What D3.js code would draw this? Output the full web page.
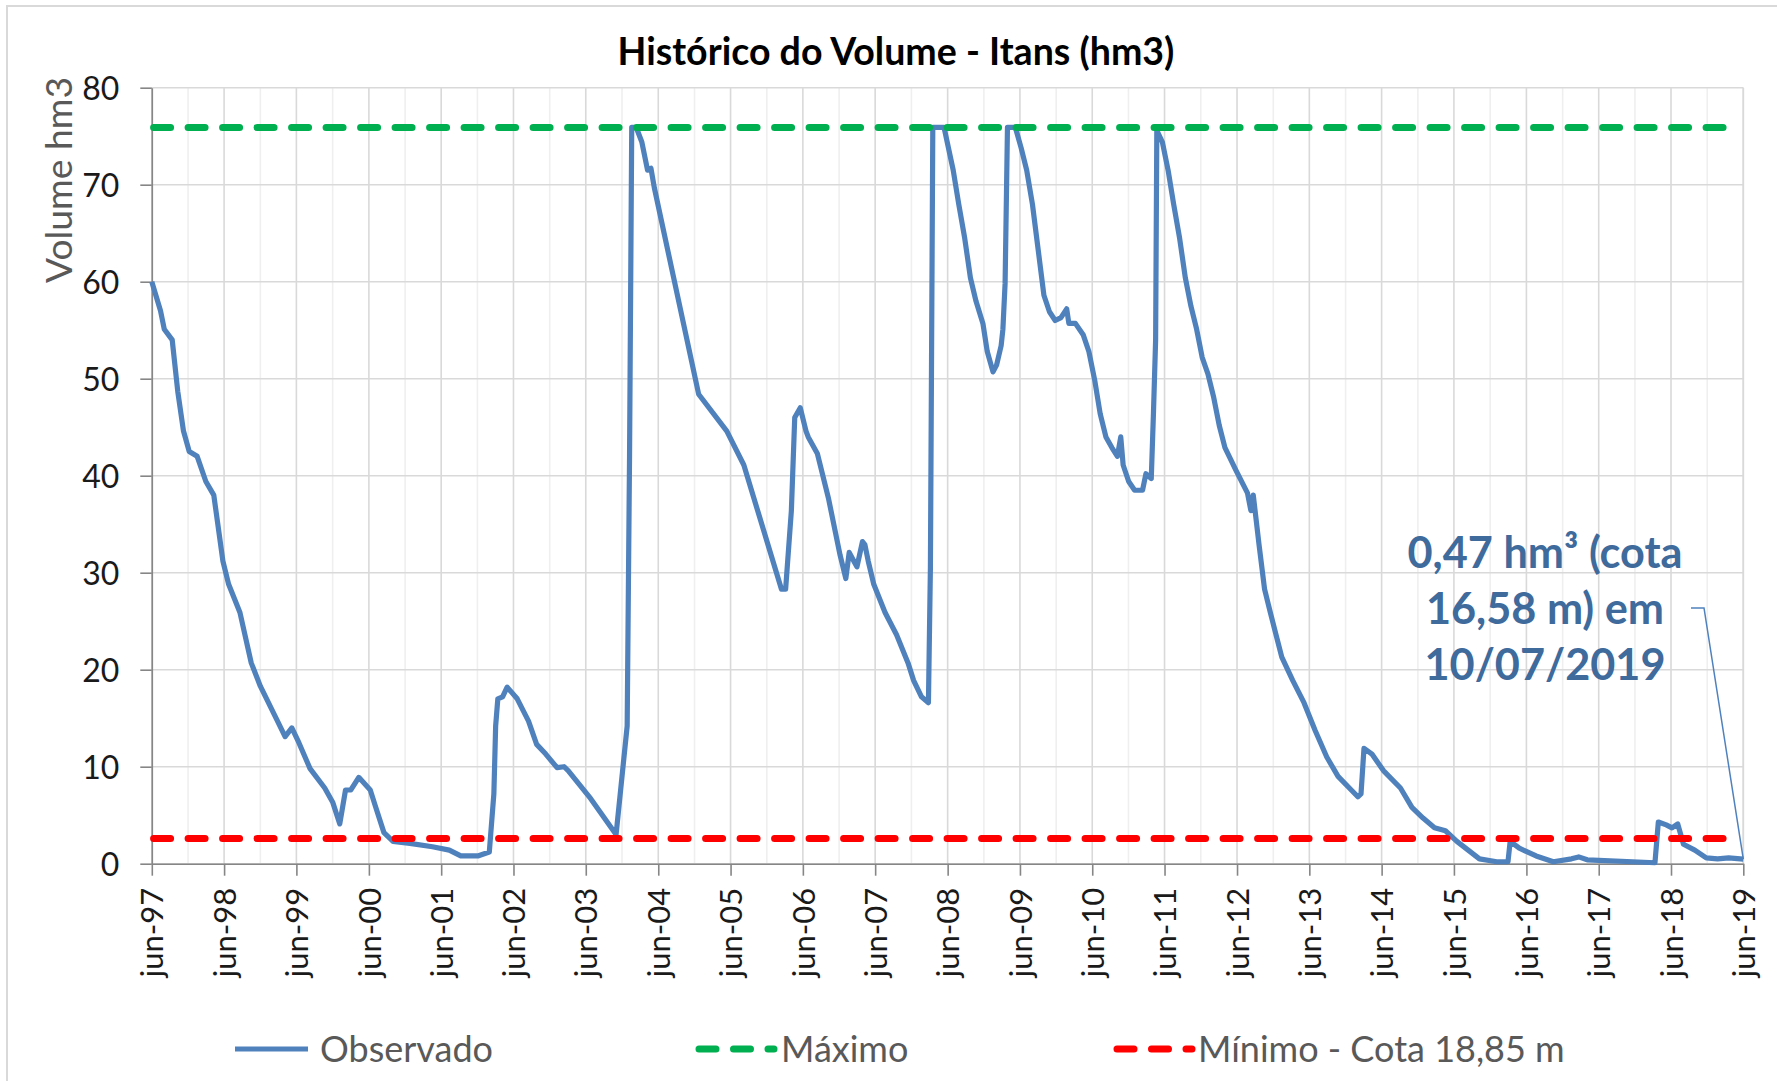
<!DOCTYPE html>
<html>
<head>
<meta charset="utf-8">
<script src="https://cdn.jsdelivr.net/npm/d3@7"></script>
<style>
html,body{margin:0;padding:0;background:#fff;}
svg{display:block;}
text{font-family:Lato,"Open Sans","Noto Sans",sans-serif;}
</style>
</head>
<body>
<script>
// ---------------- DATA ----------------
const obsDates = [
"1997-06-01","1997-07-15","1997-08-03","1997-09-12","1997-10-10","1997-11-08","1997-12-07","1998-01-16","1998-03-01","1998-04-10",
"1998-05-26","1998-06-24","1998-08-20","1998-10-16","1998-12-01","1999-02-09","1999-04-05","1999-05-09","1999-06-13","1999-08-09",
"1999-10-22","1999-12-02","2000-01-06","2000-02-04","2000-03-02","2000-04-11","2000-06-08","2000-07-06","2000-08-16","2000-10-01",
"2000-12-25","2001-04-18","2001-07-12","2001-09-08","2001-12-03","2002-01-30","2002-02-22","2002-03-03","2002-03-14","2002-04-07",
"2002-04-30","2002-06-20","2002-08-16","2002-09-26","2002-11-11","2003-01-07","2003-02-11","2003-03-04","2003-06-26","2003-11-01",
"2003-12-27","2004-01-08","2004-01-19","2004-02-11","2004-03-10","2004-04-08","2004-04-25","2004-05-12","2004-12-22","2005-05-13",
"2005-08-07","2006-02-13","2006-03-06","2006-04-04","2006-04-21","2006-05-19","2006-06-17","2006-06-28","2006-08-13","2006-10-09",
"2006-12-06","2007-01-04","2007-01-21","2007-02-13","2007-03-01","2007-03-29","2007-04-10","2007-04-27","2007-05-25","2007-07-21",
"2007-09-17","2007-11-14","2007-12-12","2008-01-21","2008-02-25","2008-03-06","2008-03-18","2008-05-14","2008-06-29","2008-07-27",
"2008-08-26","2008-09-24","2008-10-22","2008-11-26","2008-12-18","2009-01-16","2009-02-03","2009-02-26","2009-03-07","2009-03-18",
"2009-03-30","2009-05-09","2009-06-07","2009-07-05","2009-08-03","2009-09-01","2009-09-30","2009-10-28","2009-11-26","2009-12-25",
"2010-01-23","2010-02-03","2010-03-08","2010-04-17","2010-05-15","2010-06-13","2010-07-11","2010-08-09","2010-09-08","2010-10-06",
"2010-10-23","2010-11-04","2010-12-02","2011-01-01","2011-02-10","2011-02-27","2011-03-26","2011-04-06","2011-04-17","2011-04-23",
"2011-05-21","2011-06-19","2011-07-17","2011-08-16","2011-09-14","2011-10-12","2011-11-10","2011-12-08","2012-01-06","2012-02-04",
"2012-03-03","2012-04-01","2012-05-28","2012-07-24","2012-08-10","2012-08-22","2012-09-20","2012-10-18","2012-11-16","2012-12-15",
"2013-01-13","2013-03-09","2013-05-05","2013-07-01","2013-08-28","2013-10-24","2013-12-20","2014-02-01","2014-02-17","2014-03-04",
"2014-04-13","2014-06-10","2014-09-04","2014-11-01","2014-12-27","2015-02-23","2015-04-19","2015-06-16","2015-08-12","2015-10-08",
"2016-01-03","2016-02-29","2016-03-11","2016-04-26","2016-07-20","2016-10-15","2017-01-15","2017-02-20","2017-04-04","2017-06-01",
"2017-11-19","2018-03-12","2018-03-29","2018-05-08","2018-06-06","2018-07-05","2018-08-03","2018-09-29","2018-11-26","2019-01-22",
"2019-03-19","2019-06-01"
];
const obsValues = [
60.0,57.0,55.1,54.0,48.7,44.6,42.5,42.0,39.4,38.0,
31.2,28.8,25.9,20.7,18.3,15.4,13.1,14.0,12.5,9.8,
7.8,6.3,4.1,7.6,7.6,8.9,7.6,5.8,3.2,2.3,
2.1,1.75,1.4,0.8,0.8,1.2,7.2,14.2,17.0,17.2,
18.2,17.0,14.7,12.3,11.3,9.9,10.0,9.6,6.7,3.0,
14.2,42.0,75.9,75.9,74.4,71.5,71.7,69.7,48.4,44.6,
41.1,28.3,28.3,36.4,46.0,47.0,44.6,44.0,42.3,37.6,
31.8,29.4,32.1,31.2,30.6,33.2,32.9,31.2,28.8,25.9,
23.6,20.7,18.9,17.2,16.6,30.6,75.9,75.9,71.5,68.0,
64.5,60.4,58.0,55.7,52.8,50.7,51.4,53.4,55.1,59.8,
75.9,75.9,73.8,71.5,68.0,63.3,58.6,56.9,56.0,56.3,
57.2,55.7,55.7,54.5,52.8,49.9,46.4,44.0,42.9,42.0,
44.0,41.1,39.4,38.5,38.5,40.2,39.7,46.4,54.0,75.6,
74.4,71.5,68.0,64.5,60.4,57.5,55.1,52.2,50.5,48.1,
45.2,42.9,40.5,38.2,36.4,38.0,32.9,28.3,25.9,23.6,
21.3,18.9,16.6,13.7,11.0,9.0,7.8,6.9,7.2,11.9,
11.3,9.6,7.8,5.8,4.7,3.7,3.4,2.3,1.4,0.5,
0.2,0.2,2.3,1.6,0.8,0.2,0.5,0.7,0.4,0.35,
0.2,0.1,4.3,4.0,3.7,4.1,2.0,1.4,0.6,0.5,
0.6,0.47
];
const maxDates = ["1997-06-10","2019-02-20"];
const maxValues = [75.9, 75.9];
const minDates = ["1997-06-10","2019-02-20"];
const minValues = [2.6, 2.6];
const yTicks = [0,10,20,30,40,50,60,70,80];
const xStart = "1997-06-01", xEnd = "2019-06-01";
const seriesNames = ["Observado","Máximo","Mínimo - Cota 18,85 m"];
const titleText = "Histórico do Volume - Itans (hm3)";
const yTitle = "Volume hm3";
const annotationLines = ["0,47 hm³ (cota","16,58 m) em","10/07/2019"];

// ---------------- SETUP ----------------
const W = 1777, H = 1081;
const parse = d3.timeParse("%Y-%m-%d");
const ptLocale = d3.timeFormatLocale({
  dateTime:"%d/%m/%Y %H:%M:%S", date:"%d/%m/%Y", time:"%H:%M:%S", periods:["AM","PM"],
  days:["domingo","segunda","terça","quarta","quinta","sexta","sábado"],
  shortDays:["dom","seg","ter","qua","qui","sex","sáb"],
  months:["janeiro","fevereiro","março","abril","maio","junho","julho","agosto","setembro","outubro","novembro","dezembro"],
  shortMonths:["jan","fev","mar","abr","mai","jun","jul","ago","set","out","nov","dez"]
});
const fmt = ptLocale.format("%b-%y");

const obs = obsDates.map((d,i)=>({date:parse(d), v:obsValues[i]}));
const maxS = maxDates.map((d,i)=>({date:parse(d), v:maxValues[i]}));
const minS = minDates.map((d,i)=>({date:parse(d), v:minValues[i]}));

const L = 151.8, R = 1743.3, T = 87.7, B = 863.7;
const x = d3.scaleTime().domain([parse(xStart), parse(xEnd)]).range([L, R]);
const y = d3.scaleLinear().domain([0, 80]).range([B, T]);

const xMajor = d3.timeMonth.range(parse(xStart), d3.timeDay.offset(parse(xEnd),1), 12);
const xMinor = d3.timeMonth.range(parse(xStart), d3.timeDay.offset(parse(xEnd),1), 6);

const svg = d3.select("body").append("svg").attr("width", W).attr("height", H);
svg.append("rect").attr("width", W).attr("height", H).attr("fill", "#fff");
svg.append("rect").attr("x", 7).attr("y", 6).attr("width", W + 50).attr("height", H + 50)
  .attr("fill", "none").attr("stroke", "#D9D9D9").attr("stroke-width", 2);

function fit(sel, target) {
  const w = sel.node().getComputedTextLength();
  const fs = parseFloat(sel.attr("font-size"));
  sel.attr("font-size", (fs * target / w).toFixed(2));
  return fs * target / w;
}

// ---------------- GRID ----------------
const grid = svg.append("g");
grid.selectAll("line.vmin").data(xMinor).join("line")
  .attr("x1", d => x(d)).attr("x2", d => x(d)).attr("y1", T).attr("y2", B)
  .attr("stroke", d => (d.getMonth() === 5 ? "#D9D9D9" : "#EFEFEF")).attr("stroke-width", 1.6);
grid.selectAll("line.h").data(yTicks).join("line")
  .attr("x1", L).attr("x2", R).attr("y1", d => y(d)).attr("y2", d => y(d))
  .attr("stroke", "#D9D9D9").attr("stroke-width", 1.6);
grid.append("line").attr("x1", R).attr("x2", R).attr("y1", T).attr("y2", B)
  .attr("stroke", "#D9D9D9").attr("stroke-width", 1.6);

// ---------------- AXES ----------------
const yAxis = svg.append("g").attr("transform", `translate(${L},0)`)
  .call(d3.axisLeft(y).tickValues(yTicks).tickSize(11.5).tickPadding(21).tickSizeOuter(0));
yAxis.select(".domain").attr("stroke", "#868686").attr("stroke-width", 1.6);
yAxis.selectAll(".tick line").attr("stroke", "#868686").attr("stroke-width", 1.6);
yAxis.selectAll(".tick text").attr("font-size", 32).attr("fill", "#1a1a1a")
  .attr("font-family", "Lato, sans-serif").attr("dy", "0.36em");

const xAxis = svg.append("g").attr("transform", `translate(0,${B})`)
  .call(d3.axisBottom(x).tickValues(xMajor).tickFormat(fmt).tickSize(12).tickSizeOuter(0));
xAxis.select(".domain").attr("stroke", "#868686").attr("stroke-width", 1.6);
xAxis.selectAll(".tick line").attr("stroke", "#868686").attr("stroke-width", 1.6);
xAxis.selectAll(".tick text").attr("font-size", 31).attr("fill", "#1a1a1a")
  .attr("font-family", "Lato, sans-serif")
  .attr("transform", "rotate(-90)").attr("text-anchor", "end")
  .attr("x", -24).attr("y", 0).attr("dy", "0.36em");

// ---------------- SERIES ----------------
const line = d3.line().x(d => x(d.date)).y(d => y(d.v));
svg.append("path").datum(obs).attr("d", line).attr("fill", "none")
  .attr("stroke", "#4F81BD").attr("stroke-width", 5.2).attr("stroke-linejoin", "round");
const dash = "17,17.5";
svg.append("path").datum(maxS).attr("d", line).attr("fill", "none")
  .attr("stroke", "#00B050").attr("stroke-width", 7).attr("stroke-linecap", "round")
  .attr("stroke-dasharray", dash);
svg.append("path").datum(minS).attr("d", line).attr("fill", "none")
  .attr("stroke", "#FF0000").attr("stroke-width", 7).attr("stroke-linecap", "round")
  .attr("stroke-dasharray", dash);

// ---------------- TITLES ----------------
const title = svg.append("text").attr("x", 896).attr("y", 65).attr("text-anchor", "middle")
  .attr("font-size", 36).attr("font-weight", "bold").attr("fill", "#000").text(titleText);
fit(title, 557);

const yt = svg.append("text").attr("transform", "translate(71.5,180) rotate(-90)")
  .attr("text-anchor", "middle").attr("font-size", 36).attr("fill", "#595959").text(yTitle);
fit(yt, 206);

// ---------------- ANNOTATION ----------------
const last = obs[obs.length - 1];
svg.append("path")
  .attr("d", `M1691,608 H1704 L${x(last.date)},${y(last.v)}`)
  .attr("fill", "none").attr("stroke", "#4F81BD").attr("stroke-width", 1.5);
const annY = [568, 624, 680];
const ann = svg.append("g");
const a0 = ann.append("text").attr("x", 1545).attr("y", annY[0]).attr("text-anchor", "middle")
  .attr("font-size", 40).attr("font-weight", "bold").attr("fill", "#3E6A9C").text(annotationLines[0]);
const afs = fit(a0, 275);
annotationLines.slice(1).forEach((t, i) => {
  ann.append("text").attr("x", 1545).attr("y", annY[i + 1]).attr("text-anchor", "middle")
    .attr("font-size", afs.toFixed(2)).attr("font-weight", "bold").attr("fill", "#3E6A9C").text(t);
});

// ---------------- LEGEND ----------------
const legY = 1049;
const legItems = [
  {name: seriesNames[0], color: "#4F81BD", x0: 235, x1: 308, tx: 320, w: 5.2, dash: null, tw: 173},
  {name: seriesNames[1], color: "#00B050", x0: 699, x1: 774, tx: 781, w: 7, dash: dash, tw: 128},
  {name: seriesNames[2], color: "#FF0000", x0: 1117, x1: 1192, tx: 1198, w: 7, dash: dash, tw: 370}
];
const leg = svg.append("g");
let legFs = null;
legItems.forEach((it, i) => {
  const ln = leg.append("line").attr("x1", it.x0).attr("x2", it.x1).attr("y1", legY).attr("y2", legY)
    .attr("stroke", it.color).attr("stroke-width", it.w);
  if (it.dash) ln.attr("stroke-dasharray", it.dash).attr("stroke-linecap", "round");
  const t = leg.append("text").attr("x", it.tx).attr("y", legY).attr("dy", "0.36em")
    .attr("font-size", 34).attr("fill", "#595959").text(it.name);
  if (i === 0) legFs = fit(t, it.tw); else t.attr("font-size", legFs.toFixed(2));
});
</script>
</body>
</html>
